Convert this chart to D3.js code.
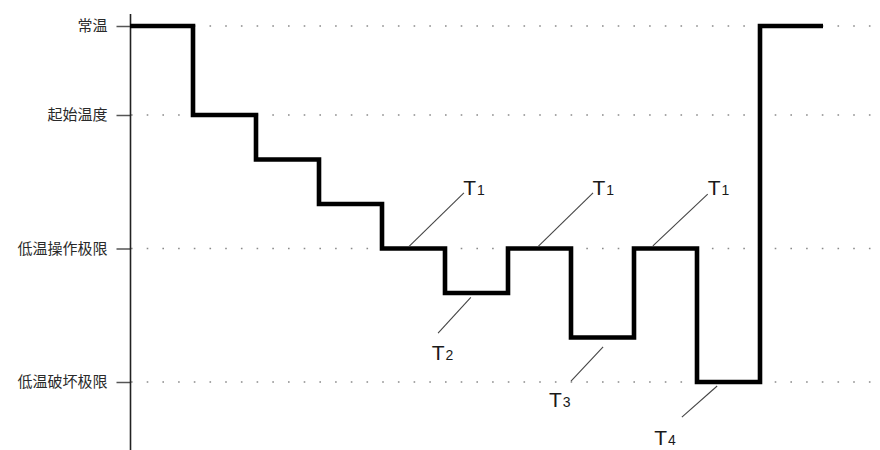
<!DOCTYPE html>
<html>
<head>
<meta charset="utf-8">
<script src="https://cdn.jsdelivr.net/npm/d3@7"></script>
<style>
  html, body { margin: 0; padding: 0; background: #fff; }
  svg { display: block; }
</style>
</head>
<body>
<svg id="chart" width="880" height="450"></svg>
<script>
// ---- data ----
const levelLabels = ["低温破坏极限", "低温操作极限", "起始温度", "常温"];
const levelValues = [0, 3, 6, 8];
const stepTimes  = [0, 1, 2, 3, 4, 5, 6, 7, 8, 9, 10, 11];
const stepValues = [8, 6, 5, 4, 3, 2, 3, 1, 3, 0, 8, 8];
// annotation leaders, in data units (time, level)
const annoNames = ["T", "T", "T", "T", "T", "T"];
const annoSubs  = ["1", "2", "1", "3", "1", "4"];
const annoFromT = [4.43, 5.41, 6.48, 7.51, 8.30, 9.32];
const annoFromV = [3.05, 1.90, 3.05, 0.79, 3.06, -0.09];
const annoToT   = [5.30, 4.89, 7.35, 7.00, 9.17, 8.76];
const annoToV   = [4.25, 1.10, 4.25, 0.02, 4.22, -0.79];
const annoLabT  = [5.29, 4.79, 7.34, 6.65, 9.17, 8.32];
const annoLabV  = [4.20, 0.49, 4.20, -0.56, 4.20, -1.42];

// ---- scales ----
const svg = d3.select("#chart");
const x = d3.scaleLinear().domain([0, 11]).range([130, 823]);
const y = d3.scaleLinear().domain([0, 8]).range([382, 26]);

// gridlines (dotted)
svg.append("g").selectAll("line").data(levelValues).join("line")
  .attr("x1", 131).attr("x2", 880)
  .attr("y1", d => y(d)).attr("y2", d => y(d))
  .attr("stroke", "#8a8a8a").attr("stroke-width", 1.6)
  .attr("stroke-dasharray", "1.6,14.1");

// y axis
const yAxis = d3.axisLeft(y)
  .tickValues(levelValues)
  .tickFormat((d, i) => levelLabels[i])
  .tickSize(14).tickPadding(9);
const ax = svg.append("g").attr("transform", "translate(130.5,0)").call(yAxis);
ax.select(".domain").remove();
ax.selectAll(".tick line").attr("stroke", "#555").attr("stroke-width", 1.5);
ax.selectAll(".tick text")
  .attr("fill", "#2a2a2a")
  .style("font-family", "'Noto Sans CJK SC', sans-serif")
  .style("font-size", "15px");
svg.append("line")
  .attr("x1", 130.5).attr("x2", 130.5).attr("y1", 14).attr("y2", 450)
  .attr("stroke", "#222").attr("stroke-width", 1.6);

// step line
const pts = stepTimes.map((t, i) => [t, stepValues[i]]);
const line = d3.line().x(d => x(d[0])).y(d => y(d[1])).curve(d3.curveStepAfter);
svg.append("path").datum(pts)
  .attr("d", line)
  .attr("fill", "none").attr("stroke", "#000")
  .attr("stroke-width", 4.6).attr("stroke-linejoin", "miter").attr("stroke-linecap", "butt");

// annotation leaders
const annos = annoNames.map((n, i) => ({
  n, s: annoSubs[i], ft: annoFromT[i], fv: annoFromV[i],
  tt: annoToT[i], tv: annoToV[i], lt: annoLabT[i], lv: annoLabV[i]
}));
const ag = svg.append("g");
ag.selectAll("line").data(annos).join("line")
  .attr("x1", d => x(d.ft)).attr("y1", d => y(d.fv))
  .attr("x2", d => x(d.tt)).attr("y2", d => y(d.tv))
  .attr("stroke", "#444").attr("stroke-width", 1.1);
const txt = ag.selectAll("text").data(annos).join("text")
  .attr("x", d => x(d.lt)).attr("y", d => y(d.lv))
  .attr("fill", "#1a1a1a")
  .style("font-family", "'Liberation Sans', Arial, sans-serif");
txt.append("tspan").style("font-size", "21px").text(d => d.n);
txt.append("tspan").attr("dx", 1).attr("dy", 0).style("font-size", "14px").text(d => d.s);
</script>
</body>
</html>
